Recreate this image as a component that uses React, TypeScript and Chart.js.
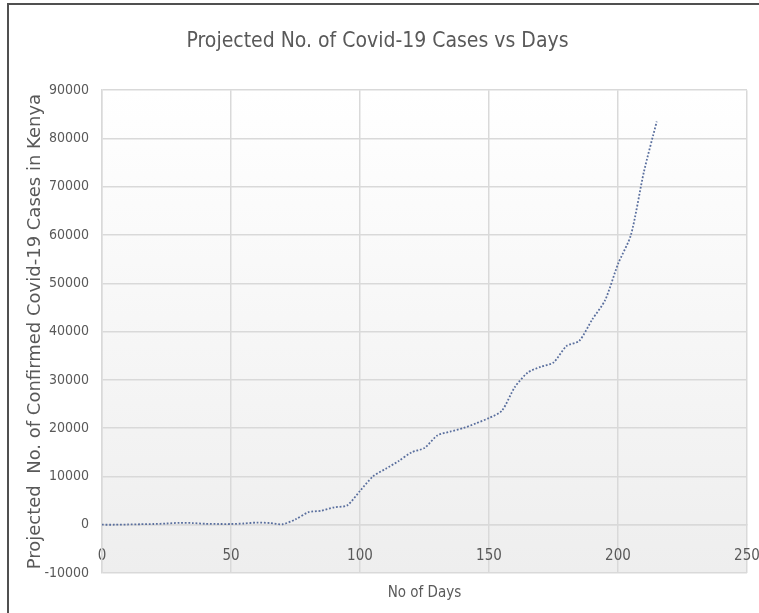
import React, { useEffect, useRef } from 'react';
import { Chart, registerables } from 'chart.js';

Chart.register(...registerables);

const TITLE = 'Projected No. of Covid-19 Cases vs Days';
const X_TITLE = 'No of Days';
const Y_TITLE = 'Projected  No. of Confirmed Covid-19 Cases in Kenya';

const days = [0, 5, 10, 15, 20, 25, 30, 35, 40, 45, 50, 55, 60, 65, 70, 75, 80, 85, 90, 95, 100, 105, 110, 115, 120, 125, 130, 135, 140, 145, 150, 155, 160, 165, 170, 175, 180, 185, 190, 195, 200, 205, 210, 215];
const cases = [0, 0, 50, 100, 150, 250, 400, 350, 200, 150, 150, 250, 450, 350, 100, 1100, 2600, 2900, 3600, 4000, 7000, 10000, 11600, 13200, 15000, 15900, 18500, 19300, 20000, 21000, 22100, 23600, 28500, 31500, 32700, 33600, 37000, 38100, 42500, 46500, 54000, 60000, 73000, 83500];

const xTicks = [0, 50, 100, 150, 200, 250];
const yTicks = [-10000, 0, 10000, 20000, 30000, 40000, 50000, 60000, 70000, 80000, 90000];

const NARROW = "'Liberation Sans Narrow', 'DejaVu Sans Condensed', 'Liberation Sans', sans-serif";
const TEXT = '#595959';
const GRID = '#d9d9d9';

const plotBg = {
  id: 'plotBg',
  beforeDraw(chart: any) {
    const { ctx, chartArea: a } = chart;
    const g = ctx.createLinearGradient(0, a.top, 0, a.bottom);
    g.addColorStop(0, '#ffffff');
    g.addColorStop(1, '#eeeeee');
    ctx.save();
    ctx.fillStyle = g;
    ctx.fillRect(a.left, a.top, a.width, a.height);
    ctx.restore();
  },
};

export default function App() {
  const ref = useRef<HTMLCanvasElement>(null);
  useEffect(() => {
    const chart = new Chart(ref.current!, {
      type: 'line',
      data: {
        datasets: [
          {
            data: days.map((d, i) => ({ x: d, y: cases[i] })),
            borderColor: '#5a6f9e',
            borderWidth: 1.8,
            borderDash: [1.8, 1.8],
            pointRadius: 0,
            tension: 0.25,
            fill: false,
          },
        ],
      },
      options: {
        animation: false,
        responsive: false,
        maintainAspectRatio: false,
        layout: { padding: { left: 8, right: 12, top: 0, bottom: 0 } },
        plugins: {
          legend: { display: false },
          tooltip: { enabled: false },
          title: {
            display: true,
            text: TITLE,
            color: TEXT,
            font: { family: NARROW, size: 21, weight: 'normal' },
            padding: { top: 29, bottom: 36 },
          },
        },
        scales: {
          x: {
            type: 'linear',
            position: { y: 0 } as any,
            min: xTicks[0],
            max: xTicks[xTicks.length - 1],
            afterBuildTicks: (s: any) => {
              s.ticks = xTicks.map((v) => ({ value: v }));
            },
            afterFit: (s: any) => {
              s.paddingLeft = 0;
              s.paddingRight = 0;
            },
            ticks: {
              color: TEXT,
              font: { family: NARROW, size: 15 },
              padding: 22,
              maxRotation: 0,
              callback: (v: any) => String(v),
            },
            grid: { color: GRID, lineWidth: 1.5, drawTicks: false },
            border: { color: GRID, width: 1.5 },
          },
          x2: {
            type: 'linear',
            position: 'bottom',
            min: xTicks[0],
            max: xTicks[xTicks.length - 1],
            ticks: { display: false },
            grid: { display: false, drawTicks: false },
            border: { display: false },
            title: {
              display: true,
              text: X_TITLE,
              color: TEXT,
              font: { family: NARROW, size: 15 },
              padding: { top: 11, bottom: 11 },
            },
          },
          y: {
            type: 'linear',
            position: 'left',
            min: yTicks[0],
            max: yTicks[yTicks.length - 1],
            afterBuildTicks: (s: any) => {
              s.ticks = yTicks.map((v) => ({ value: v }));
            },
            afterFit: (s: any) => {
              s.width = 94;
            },
            ticks: {
              color: TEXT,
              font: { family: NARROW, size: 14 },
              padding: 13,
              callback: (v: any) => String(v),
            },
            grid: { color: GRID, lineWidth: 1.5, drawTicks: false },
            border: { color: GRID, width: 1.5 },
            title: {
              display: true,
              text: Y_TITLE,
              color: TEXT,
              font: { family: "'DejaVu Sans', Verdana, sans-serif", size: 18 },
              padding: { top: 17, bottom: 0 },
            },
          },
        },
      },
      plugins: [plotBg],
    });
    return () => chart.destroy();
  }, []);
  return (
    <div style={{ position: 'absolute', left: 0, top: 0, width: 759, height: 613, background: '#fff' }}>
      <canvas ref={ref} width={759} height={613} style={{ display: 'block' }} />
      <div
        style={{
          position: 'absolute',
          left: 7,
          top: 3,
          right: 0,
          bottom: 0,
          borderLeft: '2px solid #505050',
          borderTop: '2px solid #505050',
          pointerEvents: 'none',
        }}
      />
    </div>
  );
}
